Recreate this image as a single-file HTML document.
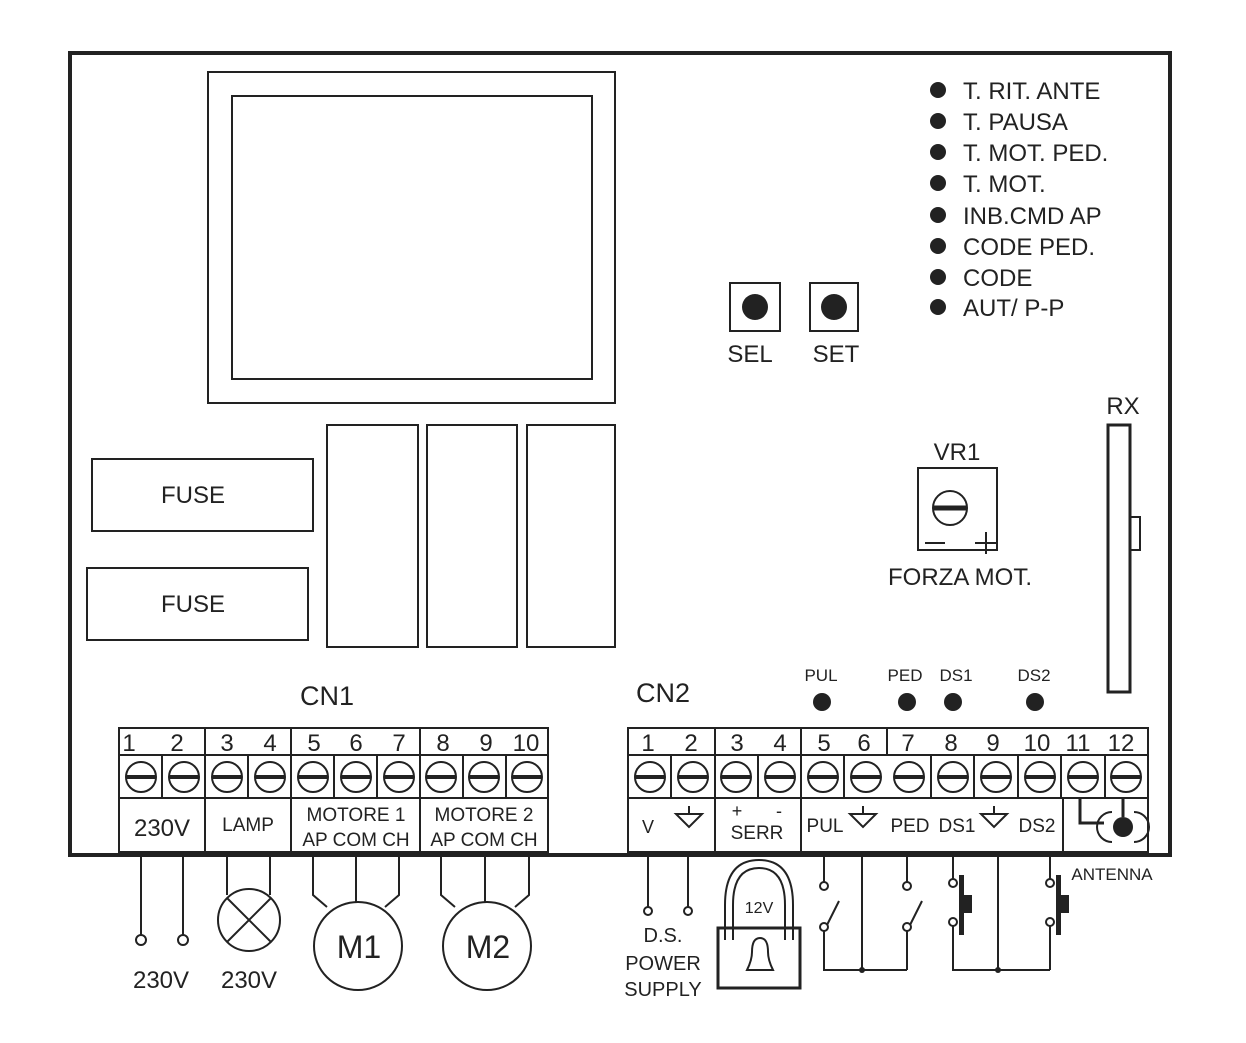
<!DOCTYPE html>
<html><head><meta charset="utf-8"><style>
html,body{margin:0;padding:0;background:#fff;}
svg{display:block;}
text{font-family:"Liberation Sans",sans-serif;fill:#222;}
</style></head><body>
<svg width="1246" height="1043" viewBox="0 0 1246 1043" xmlns="http://www.w3.org/2000/svg">
<g fill="none" stroke="#222" stroke-width="2">
<rect x="70" y="53" width="1100" height="802" stroke-width="4"/>
<rect x="208" y="72" width="407" height="331"/>
<rect x="232" y="96" width="360" height="283"/>
<rect x="327" y="425" width="91" height="222"/>
<rect x="427" y="425" width="90" height="222"/>
<rect x="527" y="425" width="88" height="222"/>
<rect x="92" y="459" width="221" height="72"/>
<rect x="87" y="568" width="221" height="72"/>
<rect x="730" y="283" width="50" height="48"/>
<rect x="810" y="283" width="48" height="48"/>
<rect x="918" y="468" width="79" height="82"/>
<circle cx="950" cy="508" r="17"/>
<rect x="1108" y="425" width="22" height="267" stroke-width="3"/>
<rect x="1130" y="517" width="10" height="33"/>
</g>
<line x1="933" y1="508" x2="967" y2="508" stroke="#222" stroke-width="5"/>
<path d="M925 543h20M975 543h22M986 532v22" stroke="#222" stroke-width="2"/>
<g fill="#222">
<circle cx="755" cy="307" r="13"/><circle cx="834" cy="307" r="13"/>
<circle cx="938" cy="90" r="8"/><circle cx="938" cy="121" r="8"/><circle cx="938" cy="152" r="8"/><circle cx="938" cy="183" r="8"/>
<circle cx="938" cy="215" r="8"/><circle cx="938" cy="246" r="8"/><circle cx="938" cy="277" r="8"/><circle cx="938" cy="307" r="8"/>
<circle cx="822" cy="702" r="9"/><circle cx="907" cy="702" r="9"/><circle cx="953" cy="702" r="9"/><circle cx="1035" cy="702" r="9"/>
</g>
<g font-size="24">
<text x="963" y="99">T. RIT. ANTE</text>
<text x="963" y="130">T. PAUSA</text>
<text x="963" y="161">T. MOT. PED.</text>
<text x="963" y="192">T. MOT.</text>
<text x="963" y="224">INB.CMD AP</text>
<text x="963" y="255">CODE  PED.</text>
<text x="963" y="286">CODE</text>
<text x="963" y="316">AUT/ P-P</text>
<text x="750" y="362" text-anchor="middle">SEL</text>
<text x="836" y="362" text-anchor="middle">SET</text>
<text x="957" y="460" text-anchor="middle">VR1</text>
<text x="960" y="585" text-anchor="middle">FORZA MOT.</text>
<text x="1123" y="414" text-anchor="middle">RX</text>
<text x="193" y="503" text-anchor="middle">FUSE</text>
<text x="193" y="612" text-anchor="middle">FUSE</text>
<text x="327" y="705" text-anchor="middle" font-size="27">CN1</text>
<text x="663" y="702" text-anchor="middle" font-size="27">CN2</text>
</g>
<g font-size="17" text-anchor="middle">
<text x="821" y="681">PUL</text><text x="905" y="681">PED</text><text x="956" y="681">DS1</text><text x="1034" y="681">DS2</text>
</g>
<!-- CN1 -->
<g fill="none" stroke="#222" stroke-width="2">
<rect x="119" y="728" width="429" height="124"/>
<line x1="119" y1="755" x2="548" y2="755"/>
<line x1="119" y1="798" x2="548" y2="798"/>
<path d="M162 755v43M248 755v43M334 755v43M377 755v43M463 755v43M506 755v43"/>
<path d="M205 728v124M291 728v124M420 728v124"/>
</g>
<g font-size="24" text-anchor="middle">
<text x="129" y="751">1</text><text x="177" y="751">2</text><text x="227" y="751">3</text><text x="270" y="751">4</text>
<text x="314" y="751">5</text><text x="356" y="751">6</text><text x="399" y="751">7</text><text x="443" y="751">8</text><text x="486" y="751">9</text><text x="526" y="751">10</text>
<text x="162" y="836">230V</text><text x="248" y="831" font-size="19">LAMP</text>
<text x="356" y="821" font-size="19">MOTORE 1</text><text x="356" y="846" font-size="19">AP COM CH</text>
<text x="484" y="821" font-size="19">MOTORE 2</text><text x="484" y="846" font-size="19">AP COM CH</text>
</g>
<!-- CN2 -->
<g fill="none" stroke="#222" stroke-width="2">
<rect x="628" y="728" width="520" height="124"/>
<line x1="628" y1="755" x2="1148" y2="755"/>
<line x1="628" y1="798" x2="1148" y2="798"/>
<path d="M671 755v43M758 755v43M844 755v43M931 755v43M974 755v43M1018 755v43M1061 755v43M1105 755v43"/>
<path d="M715 728v124M801 728v124M887 728v27M1063 798v54"/>
</g>
<g font-size="24" text-anchor="middle">
<text x="648" y="751">1</text><text x="691" y="751">2</text><text x="737" y="751">3</text><text x="780" y="751">4</text>
<text x="824" y="751">5</text><text x="864" y="751">6</text><text x="908" y="751">7</text><text x="951" y="751">8</text>
<text x="993" y="751">9</text><text x="1037" y="751">10</text><text x="1078" y="751">11</text><text x="1121" y="751">12</text>
<text x="648" y="833" font-size="18">V</text>
<text x="737" y="817" font-size="18">+</text><text x="779" y="817" font-size="18">-</text>
<text x="757" y="839" font-size="19">SERR</text>
<text x="825" y="832" font-size="19">PUL</text><text x="910" y="832" font-size="19">PED</text>
<text x="957" y="832" font-size="19">DS1</text><text x="1037" y="832" font-size="19">DS2</text>
</g>
<g fill="none" stroke="#222" stroke-width="2">
<path d="M676 814h26l-13 13z M689 806v8"/>
<path d="M850 814h26l-13 13z M863 806v8"/>
<path d="M981 814h26l-13 13z M994 806v8"/>
<path d="M1080 798v25h24" stroke-width="3"/>
<path d="M1112 812a15 15 0 0 0 0 30M1134 812a15 15 0 0 1 0 30"/>
</g>
<circle cx="1123" cy="827" r="10" fill="#222"/>
<line x1="1123" y1="798" x2="1123" y2="817" stroke="#222" stroke-width="3"/>
<g stroke="#222" stroke-width="2" fill="none">
<circle cx="141" cy="777" r="15"/><circle cx="184" cy="777" r="15"/><circle cx="227" cy="777" r="15"/><circle cx="270" cy="777" r="15"/>
<circle cx="313" cy="777" r="15"/><circle cx="356" cy="777" r="15"/><circle cx="399" cy="777" r="15"/><circle cx="441" cy="777" r="15"/>
<circle cx="484" cy="777" r="15"/><circle cx="527" cy="777" r="15"/>
<circle cx="650" cy="777" r="15"/><circle cx="693" cy="777" r="15"/><circle cx="736" cy="777" r="15"/><circle cx="780" cy="777" r="15"/>
<circle cx="823" cy="777" r="15"/><circle cx="866" cy="777" r="15"/><circle cx="909" cy="777" r="15"/><circle cx="953" cy="777" r="15"/>
<circle cx="996" cy="777" r="15"/><circle cx="1040" cy="777" r="15"/><circle cx="1083" cy="777" r="15"/><circle cx="1126" cy="777" r="15"/>
</g>
<g stroke="#222" stroke-width="4">
<path d="M126 777h30M169 777h30M212 777h30M255 777h30M298 777h30M341 777h30M384 777h30M426 777h30M469 777h30M512 777h30"/>
<path d="M635 777h30M678 777h30M721 777h30M765 777h30M808 777h30M851 777h30M894 777h30M938 777h30M981 777h30M1025 777h30M1068 777h30M1111 777h30"/>
</g>
<!-- CN1 wiring -->
<g fill="none" stroke="#222" stroke-width="2">
<path d="M141 855v80M183 855v80"/>
<circle cx="141" cy="940" r="5"/><circle cx="183" cy="940" r="5"/>
<path d="M227 855v40M270 855v40"/>
<circle cx="249" cy="920" r="31"/>
<path d="M227 898l44 44M271 898l-44 44"/>
<path d="M313 855v40l14 12M356 855v47M399 855v40l-14 12"/>
<circle cx="358" cy="946" r="44"/>
<path d="M441 855v40l14 12M485 855v47M529 855v40l-14 12"/>
<circle cx="487" cy="946" r="44"/>
</g>
<g font-size="24" text-anchor="middle">
<text x="161" y="988">230V</text><text x="249" y="988">230V</text>
<text x="359" y="958" font-size="32">M1</text><text x="488" y="958" font-size="32">M2</text>
</g>
<!-- CN2 wiring -->
<g fill="none" stroke="#222" stroke-width="2">
<path d="M648 855v52M688 855v52"/>
<circle cx="648" cy="911" r="4"/><circle cx="688" cy="911" r="4"/>
<path d="M725 940v-35q0-45 34-45q34 0 34 45v35M733 940v-35q0-37 26-37q26 0 26 37v35"/>
<rect x="718" y="928" width="82" height="60" stroke-width="3"/>
<path d="M760 938q-8 0-8 14q0 8-5 18h26q-5-10-5-18q0-14-8-14z"/>
<path d="M824 855v27M824 931l15-30M824 931v39h83M862 855v115M907 855v27M907 931l15-30M907 931v39"/>
<path d="M953 855v24M953 926v44h97M998 855v115M1050 855v24M1050 926v44"/>
</g>
<g fill="none" stroke="#222" stroke-width="2">
<circle cx="824" cy="886" r="4" fill="#fff"/><circle cx="824" cy="927" r="4" fill="#fff"/>
<circle cx="907" cy="886" r="4" fill="#fff"/><circle cx="907" cy="927" r="4" fill="#fff"/>
<circle cx="953" cy="883" r="4" fill="#fff"/><circle cx="953" cy="922" r="4" fill="#fff"/>
<circle cx="1050" cy="883" r="4" fill="#fff"/><circle cx="1050" cy="922" r="4" fill="#fff"/>
</g>
<g fill="#222">
<rect x="959" y="875" width="5" height="60"/><rect x="962" y="895" width="10" height="18"/>
<rect x="1056" y="875" width="5" height="60"/><rect x="1059" y="895" width="10" height="18"/>
<circle cx="862" cy="970" r="3"/><circle cx="998" cy="970" r="3"/>
</g>
<g font-size="20" text-anchor="middle">
<text x="663" y="942">D.S.</text><text x="663" y="970">POWER</text><text x="663" y="996">SUPPLY</text>
<text x="759" y="913" font-size="16">12V</text>
<text x="1112" y="880" font-size="17">ANTENNA</text>
</g>
</svg>
</body></html>
